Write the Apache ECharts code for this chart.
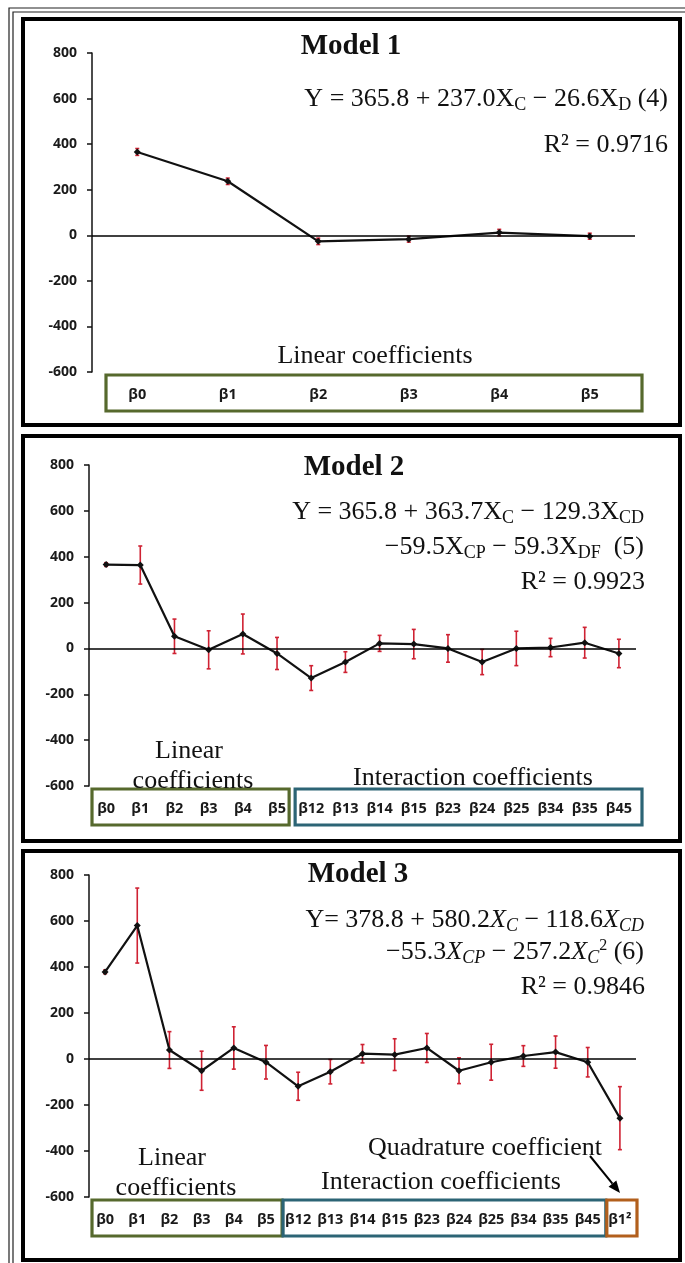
<!DOCTYPE html>
<html><head><meta charset="utf-8">
<script src="https://cdn.jsdelivr.net/npm/echarts@6/dist/echarts.min.js"></script>
<style>html,body{margin:0;padding:0;background:#fff}#c{width:685px;height:1263px}</style>
</head><body><div id="c"></div>
<script>
// ---------- data ----------
const yTicks = [-600, -400, -200, 0, 200, 400, 600, 800];

const categories1 = ['β0','β1','β2','β3','β4','β5'];
const values1 = [365.8, 237.0, -26.6, -17, 12, -4];
const errors1 = [15, 14, 14, 13, 14, 13];

const categories2 = ['β0','β1','β2','β3','β4','β5','β12','β13','β14','β15','β23','β24','β25','β34','β35','β45'];
const values2 = [365.8, 363.7, 53, -6, 63, -22, -129.3, -59.5, 22, 19, 0, -59.3, 0, 4, 25, -22];
const errors2 = [8, 83, 75, 83, 87, 70, 54, 45, 35, 64, 60, 55, 75, 40, 67, 62];

const categories3 = ['β0','β1','β2','β3','β4','β5','β12','β13','β14','β15','β23','β24','β25','β34','β35','β45','β1²'];
const values3 = [378.8, 580.2, 39, -51, 48, -14, -118.6, -55.3, 23, 19, 48, -51, -14, 13, 30, -14, -257.2];
const errors3 = [8, 163, 80, 85, 92, 73, 61, 53, 40, 69, 63, 56, 78, 45, 70, 64, 137];

// coefficient groups (first and last category index of each box)
const groupStart1 = [0];      const groupEnd1 = [5];
const groupStart2 = [0, 6];   const groupEnd2 = [5, 15];
const groupStart3 = [0, 6, 16]; const groupEnd3 = [5, 15, 16];

// ---------- styles ----------
const GREEN = '#56692d', BLUE = '#2c6475', ORANGE = '#b25f1c', RED = '#cf2233';
const SERIF = '"Liberation Serif", "Times New Roman", serif';
const SANS = '"Open Sans", "Liberation Sans", sans-serif';

const chart = echarts.init(document.getElementById('c'), null, {renderer: 'canvas'});

const grids = [
  {left: 92, top: 53, width: 543, height: 319},
  {left: 89, top: 465, width: 547, height: 321},
  {left: 89, top: 875, width: 547, height: 322}
];

function xAxis(i, cats) {
  return {
    type: 'category', gridIndex: i, data: cats, position: 'bottom',
    axisLine: {show: false}, axisTick: {show: false},
    axisLabel: {interval: 0, margin: 15, fontFamily: SANS, fontWeight: 'bold', fontSize: 14.5, color: '#1a1a1a'}
  };
}
function yAxis(i) {
  return {
    type: 'value', gridIndex: i, min: yTicks[0], max: yTicks[yTicks.length - 1], interval: 200,
    splitLine: {show: false},
    axisLine: {show: true, lineStyle: {color: '#111', width: 1.5}},
    axisTick: {show: true, inside: false, length: 5, lineStyle: {color: '#111', width: 1.5}},
    axisLabel: {margin: 15, fontFamily: SANS, fontWeight: 'bold', fontSize: 14, color: '#1a1a1a'}
  };
}

function errRender(params, api) {
  const x = api.value(0);
  const lo = api.coord([x, api.value(1)]);
  const hi = api.coord([x, api.value(2)]);
  const st = {stroke: RED, lineWidth: 1.6};
  return {type: 'group', children: [
    {type: 'line', shape: {x1: lo[0], y1: lo[1], x2: hi[0], y2: hi[1]}, style: st},
    {type: 'line', shape: {x1: lo[0] - 2, y1: lo[1], x2: lo[0] + 2, y2: lo[1]}, style: st},
    {type: 'line', shape: {x1: hi[0] - 2, y1: hi[1], x2: hi[0] + 2, y2: hi[1]}, style: st}
  ]};
}

function boxRender(colors, padL, padR) {
  return function (params, api) {
    const s = api.value(0), e = api.value(1);
    const band = api.size([1, 0])[0];
    const p0 = api.coord([s, yTicks[0]]);
    const p1 = api.coord([e, yTicks[0]]);
    const x0 = p0[0] - band / 2 + padL[params.dataIndex];
    const x1 = p1[0] + band / 2 + padR[params.dataIndex];
    return {type: 'rect', shape: {x: x0, y: p0[1] + 3, width: x1 - x0, height: 36},
      style: {fill: 'none', stroke: colors[params.dataIndex], lineWidth: 3.2}};
  };
}

function seriesFor(i, vals, errs, gs, ge, colors, padL, padR) {
  return [
    {type: 'custom', xAxisIndex: i, yAxisIndex: i, silent: true, z: 1,
     data: gs.map((s, k) => [s, ge[k]]), renderItem: boxRender(colors, padL, padR), encode: {x: 0}},
    {type: 'custom', xAxisIndex: i, yAxisIndex: i, silent: true, z: 3,
     data: vals.map((v, k) => [k, v - errs[k], v + errs[k]]), renderItem: errRender, encode: {x: 0, y: [1, 2]}},
    {type: 'line', xAxisIndex: i, yAxisIndex: i, data: vals, z: 4,
     symbol: 'diamond', symbolSize: 7, showSymbol: true,
     lineStyle: {color: '#111', width: 2.2}, itemStyle: {color: '#111'},
     markLine: {silent: true, symbol: ['none', 'none'], label: {show: false},
       lineStyle: {color: '#000', width: 1.6, type: 'solid'}, data: [{yAxis: 0}]}}
  ];
}

// ---------- decorations ----------
function txt(x, y, text, size, opts) {
  opts = opts || {};
  return {type: 'text', x: x, y: y, z: 10, silent: true, style: Object.assign({
    text: text, fill: '#111', font: (opts.bold ? 'bold ' : '') + (opts.italic ? 'italic ' : '') + size + 'px ' + SERIF,
    textAlign: opts.align || 'center', textVerticalAlign: 'middle'
  }, opts.rich ? {rich: opts.rich} : {})};
}
const subN = {fontSize: 18, fontFamily: SERIF, padding: [13, 0, 0, 0], fill: '#111'};
const subI = {fontSize: 18, fontFamily: SERIF, fontStyle: 'italic', padding: [13, 0, 0, 0], fill: '#111'};
const supI = {fontSize: 16, fontFamily: SERIF, padding: [0, 0, 13, 0], fill: '#111'};
const it = {fontSize: 26, fontFamily: SERIF, fontStyle: 'italic', fill: '#111'};
const rich = {s: subN, si: subI, sp: supI, i: it};

function panel(x, y, w, h) {
  return {type: 'rect', silent: true, z: 0, shape: {x: x, y: y, width: w, height: h},
    style: {fill: 'none', stroke: '#000', lineWidth: 4}};
}

// arrow for quadrature coefficient
const aFrom = [590, 1156], aTo = [620, 1193];
const dx = aTo[0] - aFrom[0], dy = aTo[1] - aFrom[1], dl = Math.hypot(dx, dy);
const ux = dx / dl, uy = dy / dl;
const bx = aTo[0] - 12 * ux, by = aTo[1] - 12 * uy;

const graphics = [
  {type: 'rect', silent: true, shape: {x: 9, y: 8, width: 700, height: 1300}, style: {fill: 'none', stroke: '#222', lineWidth: 1.2}},
  {type: 'rect', silent: true, shape: {x: 13, y: 12, width: 700, height: 1300}, style: {fill: 'none', stroke: '#222', lineWidth: 1.2}},
  panel(23, 19, 657, 406),
  panel(23, 436, 657, 405),
  panel(23, 851, 657, 409),
  // Model 1
  txt(351, 47, 'Model 1', 29, {bold: true}),
  txt(668, 99, 'Y = 365.8 + 237.0X{s|C} − 26.6X{s|D} (4)', 26, {align: 'right', rich: rich}),
  txt(668, 145, 'R² = 0.9716', 26, {align: 'right'}),
  txt(375, 356, 'Linear coefficients', 26),
  // Model 2
  txt(354, 468, 'Model 2', 29, {bold: true}),
  txt(644, 512, 'Y = 365.8 + 363.7X{s|C} − 129.3X{s|CD}', 26, {align: 'right', rich: rich}),
  txt(644, 547, '−59.5X{s|CP} − 59.3X{s|DF}  (5)', 26, {align: 'right', rich: rich}),
  txt(645, 582, 'R² = 0.9923', 26, {align: 'right'}),
  txt(189, 751, 'Linear', 26),
  txt(193, 781, 'coefficients', 26),
  txt(473, 778, 'Interaction coefficients', 26),
  // Model 3
  txt(358, 875, 'Model 3', 29, {bold: true}),
  txt(644, 920, 'Y= 378.8 + 580.2{i|X}{si|C} − 118.6{i|X}{si|CD}', 26, {align: 'right', rich: rich}),
  txt(644, 952, '−55.3{i|X}{si|CP} − 257.2{i|X}{si|C}{sp|2} (6)', 26, {align: 'right', rich: rich}),
  txt(645, 987, 'R² = 0.9846', 26, {align: 'right'}),
  txt(172, 1158, 'Linear', 26),
  txt(176, 1188, 'coefficients', 26),
  txt(441, 1182, 'Interaction coefficients', 26),
  txt(485, 1148, 'Quadrature coefficient', 26),
  {type: 'line', silent: true, z: 10, shape: {x1: aFrom[0], y1: aFrom[1], x2: bx, y2: by}, style: {stroke: '#000', lineWidth: 2}},
  {type: 'polygon', silent: true, z: 10, shape: {points: [aTo, [bx - 5 * uy, by + 5 * ux], [bx + 5 * uy, by - 5 * ux]]}, style: {fill: '#000'}}
];

chart.setOption({
  animation: false,
  backgroundColor: '#fff',
  grid: grids,
  xAxis: [xAxis(0, categories1), xAxis(1, categories2), xAxis(2, categories3)],
  yAxis: [yAxis(0), yAxis(1), yAxis(2)],
  series: [].concat(
    seriesFor(0, values1, errors1, groupStart1, groupEnd1, [GREEN], [14], [7]),
    seriesFor(1, values2, errors2, groupStart2, groupEnd2, [GREEN, BLUE], [3, 1], [-5, 6]),
    seriesFor(2, values3, errors3, groupStart3, groupEnd3, [GREEN, BLUE, ORANGE], [3, 1, 3], [0, 2, 1])
  ),
  graphic: graphics
});
</script></body></html>
